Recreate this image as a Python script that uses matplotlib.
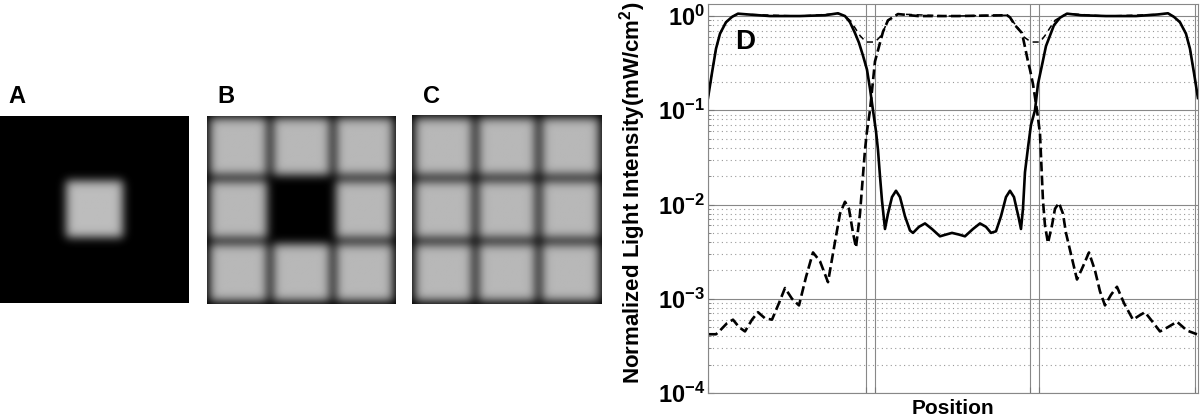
import numpy as np
import matplotlib
matplotlib.use('Agg')
import matplotlib.pyplot as plt
from matplotlib.ticker import FixedLocator, NullFormatter

plt.rcParams['font.family'] = ['Liberation Sans', 'DejaVu Sans']
plt.rcParams['mathtext.fontset'] = 'custom'
plt.rcParams['mathtext.rm'] = 'Liberation Sans:bold'
plt.rcParams['mathtext.bf'] = 'Liberation Sans:bold'
plt.rcParams['mathtext.default'] = 'bf'

# --- pattern panels: intensity of each 3x3 cell ---
levels_a = np.array([[0, 0, 0], [0, 0.74, 0], [0, 0, 0]])
levels_b = np.array([[0.72, 0.72, 0.72], [0.72, 0, 0.72], [0.72, 0.72, 0.72]])
levels_c = np.array([[0.72, 0.72, 0.72], [0.72, 0.72, 0.72], [0.72, 0.72, 0.72]])
panel_names = ['A', 'B', 'C']

# --- panel D: intensity profiles along the middle row ---
solid_pos = [0, 4, 8, 12, 18, 24, 30, 40, 62, 92, 117, 130, 137, 142, 147, 151, 155, 159,
             162, 165, 168, 170, 172, 174, 177, 180, 184, 188, 192, 197, 202, 205, 211,
             217, 224, 232, 238, 244, 251, 257, 265, 272, 278, 283, 288, 293, 298, 302,
             306, 311, 313, 315, 317, 320, 323, 327, 330, 334, 338, 342, 346, 352, 359,
             373, 398, 428, 450, 460, 466, 472, 478, 482, 486, 490]
solid_val = [0.135, 0.25, 0.45, 0.65, 0.86, 0.98, 1.06, 1.04, 1.0, 1.0, 1.02, 1.07, 1.0,
             0.86, 0.66, 0.52, 0.38, 0.27, 0.17, 0.1, 0.06, 0.038, 0.02, 0.011, 0.0055,
             0.008, 0.012, 0.014, 0.012, 0.0075, 0.0053, 0.005, 0.0058, 0.0063, 0.0055,
             0.0046, 0.0048, 0.005, 0.0048, 0.0046, 0.0055, 0.0063, 0.0058, 0.005, 0.0052,
             0.0075, 0.012, 0.014, 0.012, 0.007, 0.0055, 0.009, 0.022, 0.04, 0.07, 0.1,
             0.19, 0.3, 0.48, 0.62, 0.8, 0.96, 1.06, 1.02, 1.0, 1.0, 1.04, 1.07, 0.98,
             0.86, 0.65, 0.45, 0.25, 0.135]

dash_pos = [0, 8, 12, 19, 25, 31, 37, 44, 50, 57, 64, 71, 77, 84, 91, 98, 105, 112, 120,
            127, 132, 137, 141, 145, 148, 152, 154, 157, 159, 162, 167, 172, 175, 180, 190,
            210, 250, 299, 302, 307, 314, 317, 320, 322, 325, 329, 332, 335, 337, 340, 344,
            347, 351, 355, 358, 362, 369, 375, 381, 387, 392, 397, 403, 409, 416, 425, 431,
            437, 444, 452, 460, 469, 479, 489]
dash_val = [0.00042, 0.00042, 0.00046, 0.00055, 0.0006, 0.0005, 0.00045, 0.0006, 0.00072,
            0.00062, 0.0006, 0.0009, 0.0013, 0.001, 0.00085, 0.0017, 0.0031, 0.0025, 0.0015,
            0.004, 0.008, 0.0107, 0.009, 0.005, 0.0035, 0.008, 0.015, 0.038, 0.06, 0.1,
            0.33, 0.52, 0.68, 0.9, 1.05, 1.0, 1.0, 1.02, 0.97, 0.8, 0.66, 0.47, 0.33, 0.27,
            0.19, 0.1, 0.057, 0.011, 0.006, 0.0039, 0.006, 0.009, 0.0104, 0.008, 0.005,
            0.0033, 0.0016, 0.0022, 0.0031, 0.002, 0.0012, 0.00085, 0.0011, 0.00134, 0.0009,
            0.0006, 0.00066, 0.00072, 0.00058, 0.00045, 0.0005, 0.00057, 0.00046, 0.00042]

sum_pos = [0, 4, 8, 12, 18, 24, 30, 40, 92, 130, 137, 142, 147, 152, 158, 167, 172, 175,
           180, 190, 242, 299, 304, 310, 316, 323, 332, 337, 342, 347, 354, 360, 398, 450,
           460, 466, 472, 478, 482, 486, 490]
sum_val = [0.135, 0.25, 0.45, 0.65, 0.86, 0.98, 1.06, 1.04, 1.0, 1.06, 1.0, 0.9, 0.75,
           0.62, 0.53, 0.53, 0.6, 0.68, 0.9, 1.05, 1.0, 1.02, 0.9, 0.75, 0.6, 0.53, 0.53,
           0.62, 0.75, 0.9, 1.0, 1.06, 1.0, 1.04, 1.07, 0.98, 0.86, 0.65, 0.45, 0.25, 0.135]

boundary_ticks = [0, 158, 167, 322, 331, 487]
ytick_vals = [1e-4, 1e-3, 1e-2, 1e-1, 1e0]
ytick_labels = [r'$10^{-4}$', r'$10^{-3}$', r'$10^{-2}$', r'$10^{-1}$', r'$10^{0}$']


def make_panel(levels, cell=60, gap=3, sigma=4.5):
    n = levels.shape[0]
    img = np.zeros((n * cell, n * cell))
    for i in range(n):
        for j in range(n):
            img[i * cell + gap:(i + 1) * cell - gap,
                j * cell + gap:(j + 1) * cell - gap] = levels[i, j]
    k = np.exp(-0.5 * (np.arange(-14, 15) / sigma) ** 2)
    k /= k.sum()
    img = np.apply_along_axis(lambda r: np.convolve(r, k, mode='same'), 0, img)
    img = np.apply_along_axis(lambda r: np.convolve(r, k, mode='same'), 1, img)
    return img


fig = plt.figure(figsize=(12, 4.2), dpi=100)

panel_boxes = [[0.0, 0.278, 0.157, 0.446],
               [0.1725, 0.276, 0.1575, 0.448],
               [0.3433, 0.276, 0.1583, 0.45]]
label_x = [0.014, 0.188, 0.36]
for name, levels, box, lx in zip(panel_names, [levels_a, levels_b, levels_c], panel_boxes, label_x):
    ax = fig.add_axes(box)
    ax.imshow(make_panel(levels), cmap='gray', vmin=0, vmax=1, aspect='auto',
              interpolation='bilinear')
    ax.set_axis_off()
    fig.text(lx, 0.77, name, fontsize=17, fontweight='bold', ha='center', va='center')

ax = fig.add_axes([0.59, 0.0643, 0.4083, 0.926])
ax.plot(sum_pos, sum_val, color='black', lw=1.1, ls=(0, (4, 3)))
ax.plot(dash_pos, dash_val, color='black', lw=1.9, ls='--')
ax.plot(solid_pos, solid_val, color='black', lw=1.9)
ax.set_yscale('log')
ax.set_ylim(1e-4, 1.34)
ax.set_xlim(0, 490)

ax.xaxis.set_major_locator(FixedLocator(boundary_ticks))
ax.xaxis.set_major_formatter(NullFormatter())
ax.set_yticks(ytick_vals)
ax.set_yticklabels(ytick_labels, fontsize=17)
ax.yaxis.set_minor_formatter(NullFormatter())
ax.tick_params(which='both', direction='in', color='#777777', pad=2)
ax.tick_params(which='major', length=4)
ax.tick_params(which='minor', length=2)
ax.grid(True, which='major', color='#888888', lw=0.8, ls='-')
ax.grid(True, which='minor', axis='y', color='#999999', lw=0.8, ls=(0, (1, 3)))
for s in ax.spines.values():
    s.set_color('#888888')

ax.set_xlabel('Position', fontsize=15, fontweight='bold', labelpad=2)
ax.set_ylabel('Normalized Light Intensity(mW/cm$^{2}$)', fontsize=16, fontweight='bold')
ax.yaxis.set_label_coords(-0.122, 0.515)
ax.text(37, 0.53, 'D', fontsize=20, fontweight='bold', ha='center', va='center')

fig.savefig('out.png', dpi=100)
